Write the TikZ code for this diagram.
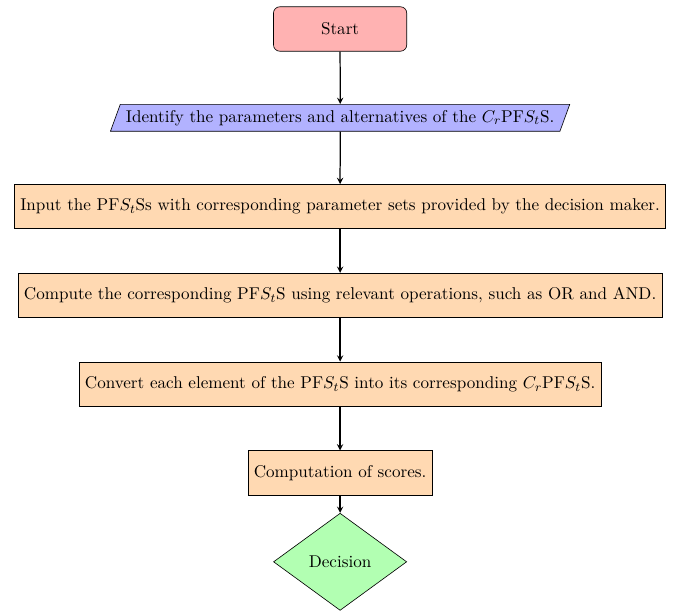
\documentclass[11pt,tikz,border=0pt]{standalone}
\usetikzlibrary{shapes.geometric,arrows}
\tikzset{
  startstop/.style={rectangle, rounded corners, minimum width=3cm, minimum height=1cm, text centered, draw=black, fill=red!30},
  io/.style={trapezium, trapezium left angle=70, trapezium right angle=110, text centered, draw=black, fill=blue!30},
  process/.style={rectangle, minimum width=3cm, minimum height=1cm, text centered, draw=black, fill=orange!30},
  decision/.style={diamond, minimum width=3cm, minimum height=1cm, text centered, draw=black, fill=green!30},
  arrow/.style={thick,->,>=stealth}
}
\begin{document}
\begin{tikzpicture}
\useasboundingbox (-7.66,0.653) rectangle (7.61,-13.11);
\node (start) [startstop] at (0,0) {Start};
\node (in1) [io] at (0,-2) {Identify the parameters and alternatives of the $C_r$PF$S_t$S.};
\node (pro1) [process] at (0,-4) {Input the PF$S_t$Ss with corresponding parameter sets provided by the decision maker.};
\node (pro2) [process] at (0,-6) {Compute the corresponding PF$S_t$S using relevant operations, such as OR and AND.};
\node (pro3) [process] at (0,-8) {Convert each element of the PF$S_t$S into its corresponding $C_r$PF$S_t$S.};
\node (pro4) [process] at (0,-10) {Computation of scores.};
\node (dec) [decision] at (0,-12) {Decision};
\draw [arrow] (start) -- (in1);
\draw [arrow] (in1) -- (pro1);
\draw [arrow] (pro1) -- (pro2);
\draw [arrow] (pro2) -- (pro3);
\draw [arrow] (pro3) -- (pro4);
\draw [arrow] (pro4) -- (dec);
\end{tikzpicture}
\end{document}
